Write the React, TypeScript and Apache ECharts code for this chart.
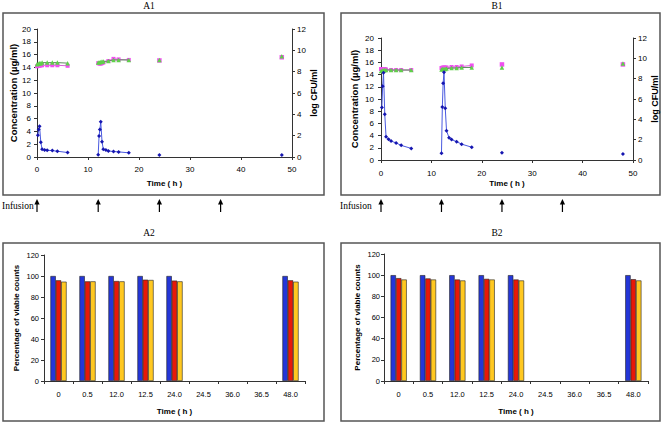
import React, { useEffect, useRef } from "react";
import * as echarts from "echarts";

// ---- Data ----
const DOSE1_T = [0.17, 0.33, 0.5, 0.75, 1, 1.5, 2, 3, 4, 6];
const DOSE2_T = [12, 12.17, 12.33, 12.5, 12.75, 13, 13.5, 14, 15, 16, 18];
const LATE_T = [24, 48];

const A1_CONC_D1 = [3.4, 4.3, 4.8, 2.3, 1.2, 1.1, 1.05, 1.0, 0.9, 0.7];
const A1_CONC_D2 = [0.35, 3.3, 4.3, 5.5, 2.4, 1.2, 1.1, 0.95, 0.85, 0.8, 0.65];
const A1_CONC_LATE = [0.3, 0.3];

const B1_CONC_D1 = [8.6, 12.1, 14.3, 7.5, 3.8, 3.4, 3.1, 2.8, 2.4, 1.9];
const B1_CONC_D2 = [1.1, 8.7, 12.6, 14.4, 8.5, 4.8, 3.65, 3.35, 3.0, 2.6, 2.1];
const B1_CONC_LATE = [1.2, 1.0];

const CFU_D1_T = [0, 0.25, 0.5, 0.75, 1, 2, 3, 4, 6];
const CFU_D2_T = [12, 12.25, 12.5, 12.75, 13, 14, 15, 16, 18];

const A1_GREEN_D1 = [8.7, 8.75, 8.8, 8.8, 8.85, 8.85, 8.85, 8.85, 8.8];
const A1_MAG_D1 = [8.5, 8.55, 8.55, 8.6, 8.6, 8.6, 8.6, 8.6, 8.55];
const A1_GREEN_D2 = [8.85, 8.85, 8.9, 8.95, 8.95, 9.0, 9.1, 9.1, 9.1];
const A1_MAG_D2 = [8.8, 8.75, 8.75, 8.8, 8.85, 9.0, 9.2, 9.15, 9.1];
const A1_GREEN_LATE = [9.1, 9.45];
const A1_MAG_LATE = [9.05, 9.35];

const B1_GREEN_D1 = [8.75, 8.8, 8.8, 8.85, 8.85, 8.85, 8.85, 8.85, 8.85];
const B1_MAG_D1 = [8.95, 8.95, 8.95, 8.95, 8.9, 8.85, 8.85, 8.85, 8.85];
const B1_GREEN_D2 = [8.9, 8.95, 8.95, 8.95, 9.0, 9.05, 9.05, 9.1, 9.1];
const B1_MAG_D2 = [9.05, 9.1, 9.1, 9.1, 9.1, 9.15, 9.15, 9.2, 9.3];
const B1_GREEN_LATE = [9.1, 9.5];
const B1_MAG_LATE = [9.4, 9.4];

const INFUSION_T = [0, 12, 24, 36];

const BAR_CATS = ["0", "0.5", "12.0", "12.5", "24.0", "24.5", "36.0", "36.5", "48.0"];
const A2_BLUE = [100, 100, 100, 100, 100, null, null, null, 100];
const A2_RED = [95.9, 94.9, 95.2, 96.5, 95.6, null, null, null, 95.9];
const A2_YELLOW = [94.6, 94.9, 94.9, 96.2, 94.9, null, null, null, 94.6];
const B2_BLUE = [100, 100, 100, 100, 100, null, null, null, 100];
const B2_RED = [97.2, 96.9, 95.9, 96.5, 95.9, null, null, null, 96.2];
const B2_YELLOW = [95.9, 95.9, 95.0, 95.9, 95.0, null, null, null, 95.0];

const SANS = "Liberation Sans, Arial, sans-serif";
const SERIF = "Liberation Serif, Times New Roman, serif";

const pairs = (t: number[], v: number[]) => t.map((x, i) => [x, v[i]]);

const AX = "#333";

function lineXAxis(idx: number, labelMargin: number, nameGap: number) {
  return {
    type: "value",
    gridIndex: idx,
    min: 0,
    max: 50,
    interval: 10,
    name: "Time ( h )",
    nameLocation: "middle",
    nameGap,
    nameTextStyle: { fontFamily: SANS, fontSize: 8, fontWeight: "bold", color: "#000" },
    axisLine: { show: true, lineStyle: { color: AX, width: 1 } },
    axisTick: { show: true, length: 3, lineStyle: { color: AX } },
    axisLabel: { fontFamily: SANS, fontSize: 8, color: "#000", margin: labelMargin },
    splitLine: { show: false },
  };
}

function yAx(grid: number, max: number, interval: number, name: string, pos: string, nameGap: number, labelMargin: number, nameSize: number, labelSize: number) {
  return {
    type: "value",
    gridIndex: grid,
    position: pos,
    min: 0,
    max,
    interval,
    name,
    nameLocation: "middle",
    nameGap,
    nameRotate: 90,
    nameTextStyle: { fontFamily: SANS, fontSize: nameSize, fontWeight: "bold", color: "#000" },
    axisLine: { show: true, lineStyle: { color: AX, width: 1 } },
    axisTick: { show: true, length: 3, lineStyle: { color: AX } },
    axisLabel: { fontFamily: SANS, fontSize: labelSize, color: "#000", margin: labelMargin },
    splitLine: { show: false },
  };
}

function barXAxis(grid: number) {
  return {
    type: "category",
    gridIndex: grid,
    data: BAR_CATS,
    name: "Time ( h )",
    nameLocation: "middle",
    nameGap: 26,
    nameTextStyle: { fontFamily: SANS, fontSize: 8, fontWeight: "bold", color: "#000" },
    axisLine: { show: true, lineStyle: { color: AX, width: 1 } },
    axisTick: { show: true, length: 3, lineStyle: { color: AX } },
    axisLabel: { fontFamily: SANS, fontSize: 7.5, color: "#000", margin: 9, interval: 0 },
    splitLine: { show: false },
  };
}

const BLUE_LINE = "#4a5ae0";
const BLUE_MARK = "#1515b0";
const GREEN_MARK = "#5fd04a";
const GREEN_LINE = "#5e8f5e";
const MAG_MARK = "#f050f0";
const MAG_LINE = "#d860d8";

function concLine(xi: number, yi: number, data: number[][]) {
  return {
    type: "line",
    xAxisIndex: xi,
    yAxisIndex: yi,
    data,
    symbol: "diamond",
    symbolSize: 4,
    showSymbol: true,
    lineStyle: { color: BLUE_LINE, width: 1 },
    itemStyle: { color: BLUE_MARK },
    z: 5,
  };
}
function concScatter(xi: number, yi: number, data: number[][]) {
  return {
    type: "scatter",
    xAxisIndex: xi,
    yAxisIndex: yi,
    data,
    symbol: "diamond",
    symbolSize: 4,
    itemStyle: { color: BLUE_MARK, opacity: 1 },
    z: 5,
  };
}
function cfuLine(xi: number, yi: number, data: number[][], green: boolean) {
  return {
    type: "line",
    xAxisIndex: xi,
    yAxisIndex: yi,
    data,
    symbol: green ? "triangle" : "rect",
    symbolSize: green ? 4.5 : 4,
    showSymbol: true,
    lineStyle: { color: green ? GREEN_LINE : MAG_LINE, width: 1 },
    itemStyle: { color: green ? GREEN_MARK : MAG_MARK },
    z: green ? 4 : 3,
  };
}
function cfuScatter(xi: number, yi: number, data: number[][], green: boolean) {
  return {
    type: "scatter",
    xAxisIndex: xi,
    yAxisIndex: yi,
    data,
    symbol: green ? "triangle" : "rect",
    symbolSize: green ? 4.5 : 4.5,
    itemStyle: { color: green ? GREEN_MARK : MAG_MARK, opacity: 1 },
    z: green ? 4 : 3,
  };
}

function bar(xi: number, yi: number, data: (number | null)[], color: string) {
  return {
    type: "bar",
    xAxisIndex: xi,
    yAxisIndex: yi,
    data,
    barWidth: 5.4,
    barGap: "0%",
    itemStyle: { color, borderColor: "#222", borderWidth: 0.6 },
  };
}

export default function App() {
  const ref = useRef<HTMLDivElement>(null);
  useEffect(() => {
    if (!ref.current) return;
    const chart = echarts.init(ref.current, undefined, { renderer: "svg" });
    const option: any = {
      animation: false,
      backgroundColor: "#fff",
      grid: [
        { left: 37, top: 29, width: 255, height: 128 },
        { left: 381, top: 38, width: 252, height: 122 },
        { left: 44, top: 255, width: 261, height: 126 },
        { left: 384, top: 254, width: 264, height: 127 },
      ],
      xAxis: [lineXAxis(0, 8, 22), lineXAxis(1, 9, 19), barXAxis(2), barXAxis(3)],
      yAxis: [
        yAx(0, 20, 2, "Concentration (µg/ml)", "left", 18, 6, 9.5, 8),
        yAx(0, 12, 2, "log CFU/ml", "right", 16, 5, 9, 8),
        yAx(1, 20, 2, "Concentration (µg/ml)", "left", 22, 7, 9.5, 8),
        yAx(1, 12, 2, "log CFU/ml", "right", 16, 5, 9, 8),
        yAx(2, 120, 20, "Percentage of viable counts", "left", 24, 5, 8, 7.5),
        yAx(3, 120, 20, "Percentage of viable counts", "left", 23, 4, 8, 7.5),
      ],
      series: [
        cfuLine(0, 1, pairs(CFU_D1_T, A1_MAG_D1), false),
        cfuLine(0, 1, pairs(CFU_D2_T, A1_MAG_D2), false),
        cfuScatter(0, 1, pairs(LATE_T, A1_MAG_LATE), false),
        cfuLine(0, 1, pairs(CFU_D1_T, A1_GREEN_D1), true),
        cfuLine(0, 1, pairs(CFU_D2_T, A1_GREEN_D2), true),
        cfuScatter(0, 1, pairs(LATE_T, A1_GREEN_LATE), true),
        concLine(0, 0, pairs(DOSE1_T, A1_CONC_D1)),
        concLine(0, 0, pairs(DOSE2_T, A1_CONC_D2)),
        concScatter(0, 0, pairs(LATE_T, A1_CONC_LATE)),

        cfuLine(1, 3, pairs(CFU_D1_T, B1_MAG_D1), false),
        cfuLine(1, 3, pairs(CFU_D2_T, B1_MAG_D2), false),
        cfuScatter(1, 3, pairs(LATE_T, B1_MAG_LATE), false),
        cfuLine(1, 3, pairs(CFU_D1_T, B1_GREEN_D1), true),
        cfuLine(1, 3, pairs(CFU_D2_T, B1_GREEN_D2), true),
        cfuScatter(1, 3, pairs(LATE_T, B1_GREEN_LATE), true),
        concLine(1, 2, pairs(DOSE1_T, B1_CONC_D1)),
        concLine(1, 2, pairs(DOSE2_T, B1_CONC_D2)),
        concScatter(1, 2, pairs(LATE_T, B1_CONC_LATE)),

        bar(2, 4, A2_BLUE, "#2436d8"),
        bar(2, 4, A2_RED, "#e81808"),
        bar(2, 4, A2_YELLOW, "#ffc820"),
        bar(3, 5, B2_BLUE, "#2436d8"),
        bar(3, 5, B2_RED, "#e81808"),
        bar(3, 5, B2_YELLOW, "#ffc820"),
      ],
    };
    chart.setOption(option);

    const frame = (x: number, y: number, w: number, h: number) => ({
      type: "rect",
      shape: { x, y, width: w, height: h },
      style: { fill: "none", stroke: "#555", lineWidth: 1.5 },
      z: -1,
      silent: true,
    });
    const title = (x: number, y: number, text: string) => ({
      type: "text",
      x,
      y,
      style: { text, fontFamily: SERIF, fontSize: 9.5, fill: "#000", align: "center", verticalAlign: "middle" },
    });
    const arrow = (x: number) => ({
      type: "group",
      children: [
        { type: "line", shape: { x1: x, y1: 203, x2: x, y2: 212 }, style: { stroke: "#000", lineWidth: 1.2 } },
        { type: "polygon", shape: { points: [[x, 199], [x - 2.6, 204.5], [x + 2.6, 204.5]] }, style: { fill: "#000" } },
      ],
    });
    const arrowsA = INFUSION_T.map((t) => arrow(chart.convertToPixel({ xAxisIndex: 0 } as any, t) as number));
    const arrowsB = INFUSION_T.map((t) => arrow(chart.convertToPixel({ xAxisIndex: 1 } as any, t) as number));

    chart.setOption({
      graphic: [
        frame(3, 13, 321, 182),
        frame(341, 13, 319, 182),
        frame(3, 243, 321, 178),
        frame(341, 243, 319, 178),
        title(149, 6, "A1"),
        title(497, 6, "B1"),
        title(149, 233, "A2"),
        title(497, 233, "B2"),
        {
          type: "text",
          x: 2,
          y: 206,
          style: { text: "Infusion", fontFamily: SERIF, fontSize: 9.5, fill: "#000", align: "left", verticalAlign: "middle" },
        },
        {
          type: "text",
          x: 340,
          y: 206,
          style: { text: "Infusion", fontFamily: SERIF, fontSize: 9.5, fill: "#000", align: "left", verticalAlign: "middle" },
        },
        ...arrowsA,
        ...arrowsB,
      ],
    });

    return () => chart.dispose();
  }, []);
  return <div ref={ref} style={{ position: "absolute", left: 0, top: 0, width: 664, height: 425 }} />;
}
